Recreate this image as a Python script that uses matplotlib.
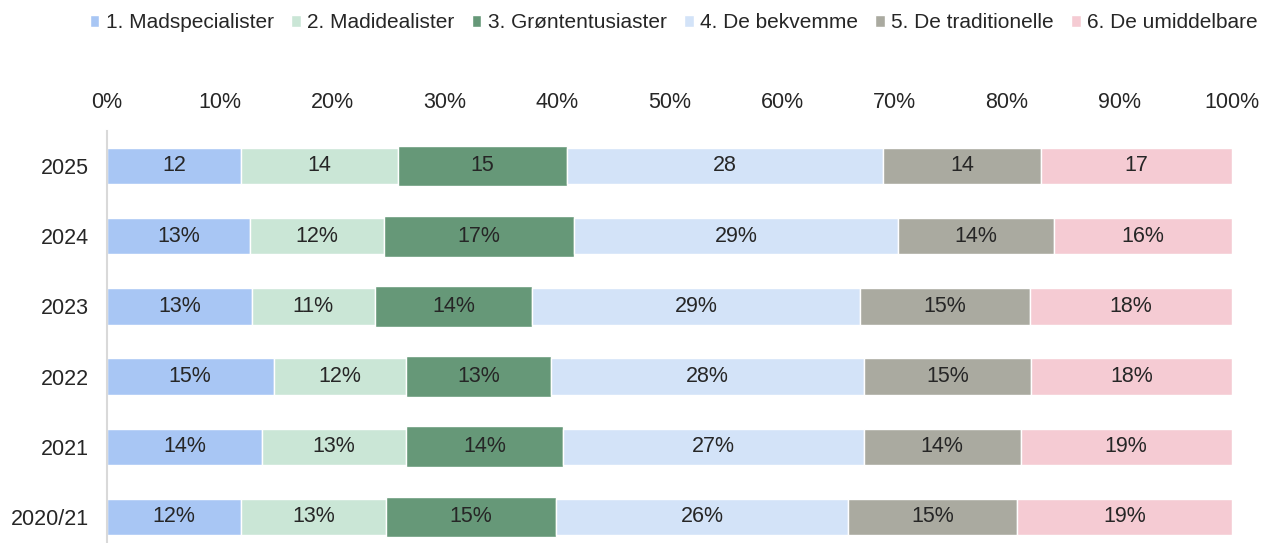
import numpy as np
import matplotlib.pyplot as plt

plt.rcParams['font.family'] = ['Liberation Sans', 'DejaVu Sans']

years = ["2025", "2024", "2023", "2022", "2021", "2020/21"]
segments = ["1. Madspecialister", "2. Madidealister", "3. Grøntentusiaster",
            "4. De bekvemme", "5. De traditionelle", "6. De umiddelbare"]

# shares in percent (top row first)
madspec = [11.9, 12.7, 12.9, 14.8, 13.8, 11.9]
madideal = [14.0, 11.9, 10.9, 11.8, 12.8, 12.9]
groent = [15.0, 16.9, 14.0, 12.9, 13.9, 15.1]
bekvemme = [28.1, 28.8, 29.1, 27.8, 26.8, 26.0]
tradition = [14.0, 13.9, 15.1, 14.8, 13.9, 15.0]
umiddelbare = [17.0, 15.8, 18.0, 17.9, 18.8, 19.1]

colors = ["#A8C6F4", "#CAE6D6", "#669878", "#D3E3F8", "#AAAAA0", "#F5CBD3"]
heights = [0.52, 0.52, 0.58, 0.52, 0.52, 0.52]

series = [madspec, madideal, groent, bekvemme, tradition, umiddelbare]

fig = plt.figure(figsize=(12.62, 5.43), dpi=100)
ax = fig.add_axes([107 / 1262, 0, (1232 - 107) / 1262, 1 - 131 / 543])

y = np.arange(len(years))
left = np.zeros(len(years))
for name, vals, c, h in zip(segments, series, colors, heights):
    vals = np.array(vals)
    ax.barh(y, vals, left=left, height=h, color=c, edgecolor="white",
            linewidth=1, label=name)
    for i, v in enumerate(vals):
        # first row is labelled without percent sign
        txt = "%d" % round(v) if i == 0 else "%d%%" % round(v)
        ax.text(left[i] + v / 2, y[i], txt, ha="center", va="center",
                fontsize=15.5, color="#262626")
    left += vals

ax.set_xlim(0, 100)
ax.set_ylim(5 + 26 / 70.2, -35 / 70.2)
ax.set_yticks(y)
ax.set_yticklabels(years)
ax.set_xticks(np.arange(0, 101, 10))
ax.set_xticklabels(["%d%%" % t for t in range(0, 101, 10)])
ax.xaxis.tick_top()
ax.tick_params(axis="x", length=0, pad=13, labelsize=15.5, colors="#262626")
ax.tick_params(axis="y", length=0, pad=13, labelsize=15.5, colors="#262626")

for s in ["top", "right", "bottom"]:
    ax.spines[s].set_visible(False)
ax.spines["left"].set_color("#D9D9D9")
ax.spines["left"].set_linewidth(1.5)

fig.legend(loc="center left", bbox_to_anchor=(90 / 1262, 1 - 23 / 543),
           ncol=6, frameon=False, fontsize=15, handlelength=0.45,
           handleheight=0.45, handletextpad=0.3, columnspacing=0.85,
           borderpad=0, borderaxespad=0, labelcolor="#262626")

plt.savefig("out.png", dpi=100)
